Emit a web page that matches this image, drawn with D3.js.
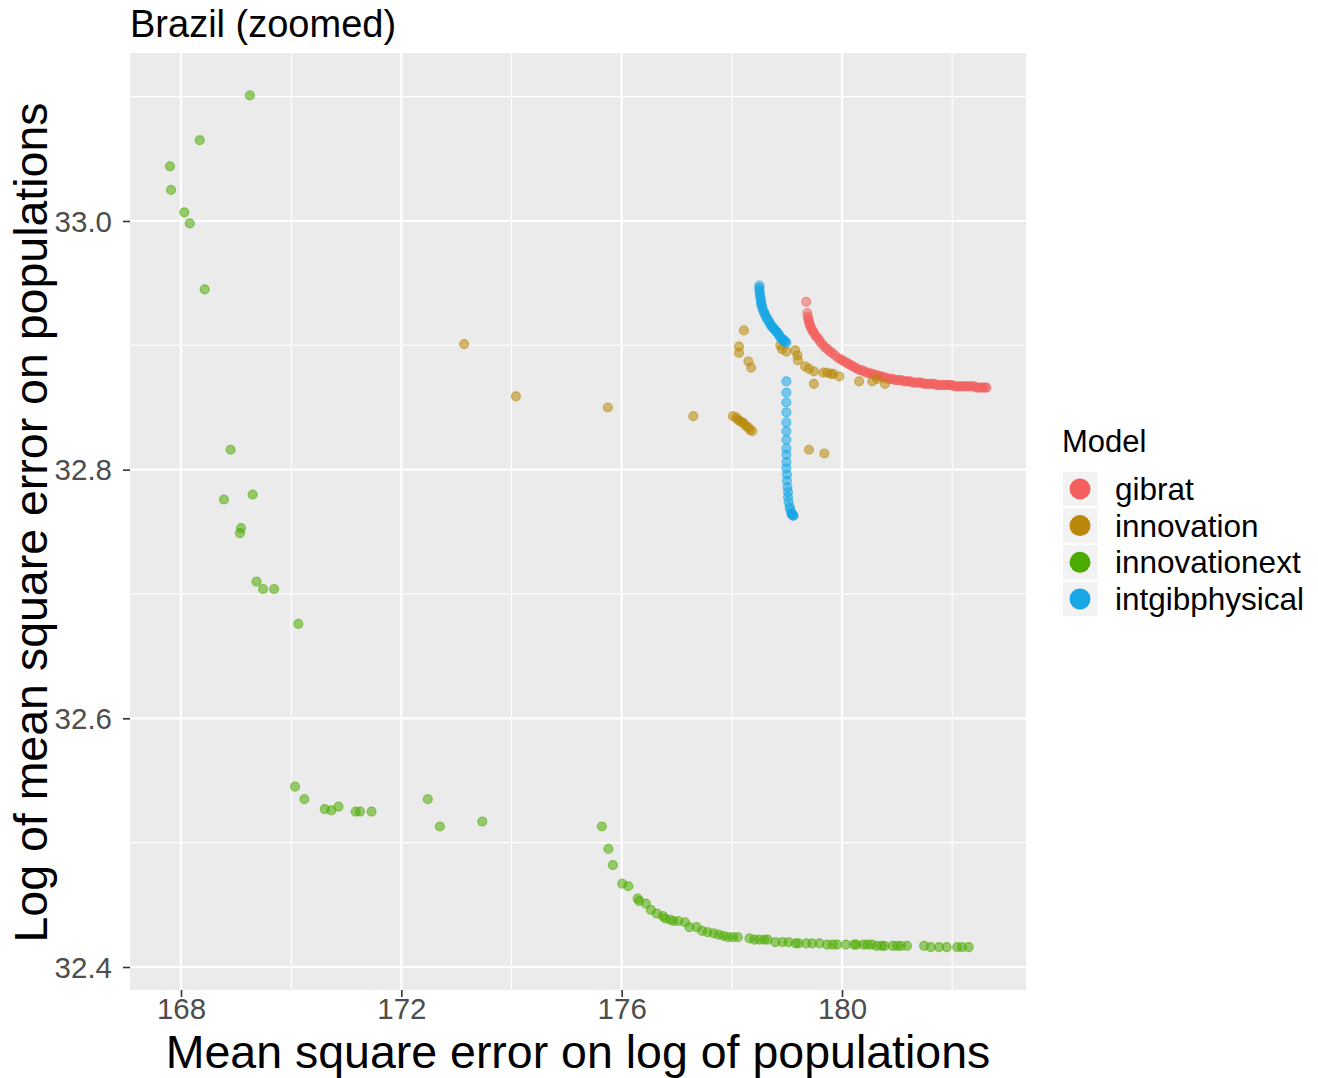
<!DOCTYPE html>
<html>
<head>
<meta charset="utf-8">
<script src="https://cdn.jsdelivr.net/npm/d3@7"></script>
<style>
  html, body { margin: 0; padding: 0; background: #ffffff; }
  svg { display: block; font-family: "Liberation Sans", Arial, Helvetica, sans-serif; }
</style>
</head>
<body>
<svg id="chart" width="1318" height="1078"></svg>
<script>
// ---------- data (x = mean square error on log of populations, y = log of MSE on populations) ----------
const modelNames = ["gibrat", "innovation", "innovationext", "intgibphysical"];
const modelColors = ["#F3605E", "#B9880A", "#4CAB00", "#18A6E6"];

const xTicks = [168, 172, 176, 180];
const yTicks = [32.4, 32.6, 32.8, 33.0];
const xMinor = [170, 174, 178, 182];
const yMinor = [32.5, 32.7, 32.9, 33.1];

const gibratPts = [
  [179.35,32.935],[179.37,32.926],[179.38,32.923],[179.39,32.921],[179.40,32.919],[179.41,32.917],
  [179.42,32.916],[179.44,32.914],[179.46,32.912],[179.48,32.911],[179.50,32.909],[179.53,32.907],
  [179.56,32.906],[179.59,32.904],[179.62,32.902],[179.66,32.900],[179.70,32.898],[179.74,32.897],
  [179.78,32.895],[179.82,32.894],[179.87,32.892],[179.92,32.890],[179.97,32.889],
  [180.00,32.888],[180.04,32.887],[180.08,32.886],[180.12,32.885],[180.16,32.884],[180.20,32.883],
  [180.24,32.882],[180.28,32.881],[180.32,32.880],[180.36,32.880],[180.40,32.879],[180.44,32.878],
  [180.48,32.878],[180.52,32.877],[180.56,32.877],[180.60,32.876],[180.64,32.876],[180.68,32.875],
  [180.72,32.875],[180.76,32.874],[180.80,32.874],[180.84,32.873],[180.88,32.873],[180.92,32.873],
  [180.96,32.872],[181.00,32.872],[181.04,32.872],[181.08,32.872],[181.12,32.871],[181.16,32.871],
  [181.20,32.871],[181.24,32.871],[181.28,32.870],[181.32,32.870],[181.36,32.870],[181.40,32.870],
  [181.44,32.870],[181.48,32.869],[181.52,32.869],[181.56,32.869],[181.60,32.869],[181.64,32.869],
  [181.68,32.869],[181.72,32.868],[181.76,32.868],[181.80,32.868],[181.84,32.868],[181.88,32.868],
  [181.92,32.868],[181.96,32.868],[182.00,32.868],[182.04,32.867],[182.08,32.867],[182.12,32.867],
  [182.16,32.867],[182.20,32.867],[182.24,32.867],[182.28,32.867],[182.32,32.867],[182.36,32.867],
  [182.40,32.867],[182.44,32.866],[182.48,32.866],[182.52,32.866],[182.56,32.866],[182.60,32.866],
  [182.62,32.866]
];

const innovationPts = [
  [173.14,32.901],[174.08,32.859],[175.75,32.850],[177.30,32.843],
  [178.02,32.843],[178.08,32.842],[178.11,32.840],[178.15,32.839],[178.19,32.838],[178.22,32.837],
  [178.26,32.835],[178.30,32.834],[178.33,32.832],[178.37,32.831],
  [178.22,32.912],[178.13,32.899],[178.13,32.894],[178.30,32.887],[178.35,32.882],
  [178.88,32.900],[178.91,32.897],[178.99,32.895],[179.15,32.896],[179.19,32.892],[179.20,32.888],
  [179.33,32.883],[179.40,32.881],[179.49,32.879],[179.49,32.869],
  [179.66,32.878],[179.73,32.878],[179.80,32.877],[179.84,32.877],[179.95,32.875],
  [180.31,32.871],[180.55,32.871],[180.64,32.873],[180.78,32.869],
  [179.40,32.816],[179.68,32.813]
];

const innovationextPts = [
  [169.25,33.101],[168.34,33.065],[167.80,33.044],[167.82,33.025],[168.06,33.007],[168.16,32.998],[168.43,32.945],
  [168.90,32.816],[168.78,32.776],[169.30,32.780],[169.09,32.753],[169.07,32.749],[169.37,32.710],[169.49,32.704],
  [169.69,32.704],[170.13,32.676],
  [170.07,32.545],[170.24,32.535],[170.61,32.527],[170.73,32.526],[170.86,32.529],[171.17,32.525],[171.25,32.525],
  [171.46,32.525],[172.48,32.535],[172.70,32.513],[173.47,32.517],
  [175.64,32.513],[175.76,32.495],[175.84,32.482],[176.01,32.467],[176.12,32.465],[176.29,32.455],[176.32,32.453],
  [176.44,32.451],[176.53,32.446],[176.64,32.443],[176.75,32.441],[176.79,32.439],[176.88,32.438],[176.94,32.437],
  [177.03,32.437],[177.15,32.436],[177.23,32.432],[177.36,32.432],[177.46,32.429],[177.56,32.428],[177.67,32.427],
  [177.76,32.426],[177.85,32.425],[177.93,32.424],[178.02,32.424],[178.11,32.424],[178.32,32.423],[178.41,32.422],
  [178.50,32.422],[178.59,32.422],[178.65,32.422],[178.79,32.420],[178.92,32.420],[179.03,32.420],[179.16,32.419],
  [179.21,32.419],[179.35,32.419],[179.46,32.419],[179.59,32.419],[179.73,32.418],[179.83,32.418],[179.91,32.418],
  [180.07,32.418],[180.22,32.418],[180.26,32.418],[180.39,32.418],[180.46,32.418],[180.54,32.418],[180.63,32.417],
  [180.72,32.417],[180.77,32.417],[180.92,32.417],[181.00,32.417],[181.07,32.417],[181.18,32.417],[181.49,32.417],
  [181.61,32.416],[181.76,32.416],[181.90,32.416],[182.09,32.416],[182.18,32.416],[182.30,32.416]
];

const intgibphysicalPts = [
  [178.50,32.948],[178.50,32.946],[178.50,32.944],[178.51,32.942],[178.51,32.940],[178.52,32.938],
  [178.53,32.936],[178.53,32.934],[178.54,32.933],[178.55,32.931],[178.56,32.929],[178.58,32.927],
  [178.59,32.926],[178.61,32.924],[178.63,32.922],[178.65,32.921],[178.67,32.919],[178.69,32.918],
  [178.71,32.916],[178.73,32.915],[178.75,32.914],[178.77,32.913],[178.79,32.912],[178.81,32.911],
  [178.83,32.910],[178.85,32.909],[178.87,32.907],[178.89,32.906],[178.91,32.905],[178.93,32.904],
  [178.95,32.904],[178.97,32.903],[178.99,32.902],
  [178.99,32.871],[178.99,32.862],[178.99,32.854],[178.99,32.846],[178.99,32.838],[178.99,32.831],
  [178.99,32.824],[178.99,32.817],[178.99,32.812],[178.99,32.806],[178.99,32.801],[179.00,32.796],
  [179.00,32.791],[179.01,32.786],[179.02,32.782],[179.02,32.778],[179.03,32.774],[179.05,32.770],
  [179.06,32.768],[179.08,32.765],[179.09,32.764],[179.10,32.764],[179.11,32.763],[179.12,32.763]
];

const seriesPts = [gibratPts, innovationPts, innovationextPts, intgibphysicalPts];

// ---------- layout ----------
const svg = d3.select("#chart");
const panel = { left: 130, right: 1026, top: 53, bottom: 990 };

const x = d3.scaleLinear().domain([167.0741, 183.340]).range([panel.left, panel.right]);
const y = d3.scaleLinear().domain([32.3815, 33.1351]).range([panel.bottom, panel.top]);

// panel background
svg.append("rect")
  .attr("x", panel.left).attr("y", panel.top)
  .attr("width", panel.right - panel.left).attr("height", panel.bottom - panel.top)
  .attr("fill", "#EBEBEB");

// minor grid
const grid = svg.append("g");
grid.selectAll(".xminor").data(xMinor).join("line")
  .attr("x1", d => x(d)).attr("x2", d => x(d))
  .attr("y1", panel.top).attr("y2", panel.bottom)
  .attr("stroke", "#ffffff").attr("stroke-width", 1.1);
grid.selectAll(".yminor").data(yMinor).join("line")
  .attr("y1", d => y(d)).attr("y2", d => y(d))
  .attr("x1", panel.left).attr("x2", panel.right)
  .attr("stroke", "#ffffff").attr("stroke-width", 1.1);
// major grid
grid.selectAll(".xmajor").data(xTicks).join("line")
  .attr("x1", d => x(d)).attr("x2", d => x(d))
  .attr("y1", panel.top).attr("y2", panel.bottom)
  .attr("stroke", "#ffffff").attr("stroke-width", 2.2);
grid.selectAll(".ymajor").data(yTicks).join("line")
  .attr("y1", d => y(d)).attr("y2", d => y(d))
  .attr("x1", panel.left).attr("x2", panel.right)
  .attr("stroke", "#ffffff").attr("stroke-width", 2.2);

// points
const pts = svg.append("g");
seriesPts.forEach((arr, i) => {
  pts.append("g").selectAll("circle").data(arr).join("circle")
    .attr("cx", d => x(d[0])).attr("cy", d => y(d[1]))
    .attr("r", 4.5)
    .attr("fill", modelColors[i]).attr("fill-opacity", 0.55)
    .attr("stroke", modelColors[i]).attr("stroke-opacity", 0.55)
    .attr("stroke-width", 1.2);
});

// axes
const xAxis = d3.axisBottom(x).tickValues(xTicks).tickFormat(d3.format("d")).tickSize(7).tickPadding(4);
const yAxis = d3.axisLeft(y).tickValues(yTicks).tickFormat(d3.format(".1f")).tickSize(7).tickPadding(11);

const gx = svg.append("g").attr("transform", `translate(0,${panel.bottom})`).call(xAxis);
const gy = svg.append("g").attr("transform", `translate(${panel.left},0)`).call(yAxis);
[gx, gy].forEach(g => {
  g.select(".domain").remove();
  g.selectAll(".tick line").attr("stroke", "#333333").attr("stroke-width", 1.6);
  g.selectAll(".tick text").attr("fill", "#4D4D4D")
    .style("font-family", '"Liberation Sans", Arial, sans-serif');
});
gx.selectAll(".tick text").style("font-size", "29.5px").attr("y", 29).attr("dy", "0");
gy.selectAll(".tick text").style("font-size", "29.5px").attr("dy", "0.35em");

// axis titles
svg.append("text")
  .attr("x", (panel.left + panel.right) / 2).attr("y", 1068)
  .attr("text-anchor", "middle")
  .style("font-size", "46.5px").attr("fill", "#000000")
  .text("Mean square error on log of populations");

svg.append("text")
  .attr("transform", `translate(47,${(panel.top + panel.bottom) / 2 + 1}) rotate(-90)`)
  .attr("text-anchor", "middle")
  .style("font-size", "46.5px").attr("fill", "#000000")
  .text("Log of mean square error on populations");

// title
svg.append("text")
  .attr("x", 130).attr("y", 37)
  .style("font-size", "38px").attr("fill", "#000000")
  .text("Brazil (zoomed)");

// legend
const legend = svg.append("g").attr("transform", "translate(1062,0)");
legend.append("text")
  .attr("x", 0).attr("y", 452)
  .style("font-size", "31px").attr("fill", "#000000")
  .text("Model");
const keyTop = 471.7, keyPitch = 36.7, keySize = 34.4;
const keys = legend.selectAll(".key").data(modelNames).join("g")
  .attr("transform", (d, i) => `translate(0,${keyTop + i * keyPitch})`);
keys.append("rect")
  .attr("x", 1).attr("y", 0).attr("width", 34.5).attr("height", keySize)
  .attr("fill", "#F2F2F2");
keys.append("circle")
  .attr("cx", 18).attr("cy", keySize / 2).attr("r", 10.5)
  .attr("fill", (d, i) => modelColors[i]);
keys.append("text")
  .attr("x", 53).attr("y", keySize / 2).attr("dy", "0.35em")
  .style("font-size", "31.5px").attr("fill", "#000000")
  .text(d => d);
</script>
</body>
</html>
